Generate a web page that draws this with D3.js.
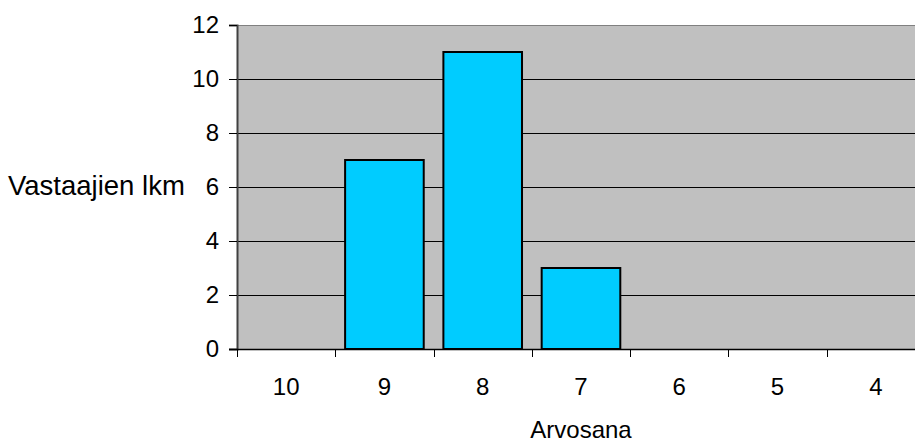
<!DOCTYPE html>
<html>
<head>
<meta charset="utf-8">
<script src="https://cdn.jsdelivr.net/npm/d3@7"></script>
<style>
  html, body { margin: 0; padding: 0; background: #fff; }
  svg { display: block; }
  text { font-family: "Liberation Sans", Arial, sans-serif; fill: #000; }
</style>
</head>
<body>
<svg id="chart" width="915" height="444"></svg>
<script>
// Grade distribution: number of respondents per grade
const grades = ["10", "9", "8", "7", "6", "5", "4"];
const counts = [0, 7, 11, 3, 0, 0, 0];
const yTicks = [0, 2, 4, 6, 8, 10, 12];
const xTitle = "Arvosana";
const yTitle = "Vastaajien lkm";

const svg = d3.select("#chart");
const plotLeft = 237, plotTop = 25, plotBottom = 349;
const bandStep = 98.28;
const plotRight = plotLeft + bandStep * grades.length;

const x = d3.scaleBand().domain(grades).range([plotLeft, plotRight]).paddingInner(0.2).paddingOuter(0.1);
const y = d3.scaleLinear().domain([0, 12]).range([plotBottom, plotTop]);

// Plot area background
svg.append("rect")
  .attr("x", plotLeft).attr("y", plotTop)
  .attr("width", plotRight - plotLeft).attr("height", plotBottom - plotTop)
  .attr("fill", "#c0c0c0");

// Horizontal gridlines
svg.append("g").selectAll("line")
  .data(yTicks.filter(d => d > 0 && d < 12))
  .join("line")
  .attr("x1", plotLeft).attr("x2", plotRight)
  .attr("y1", d => Math.round(y(d)) + 0.5).attr("y2", d => Math.round(y(d)) + 0.5)
  .attr("stroke", "#000").attr("stroke-width", 1);

// Top border of the plot area
svg.append("line")
  .attr("x1", plotLeft).attr("x2", plotRight)
  .attr("y1", plotTop + 0.5).attr("y2", plotTop + 0.5)
  .attr("stroke", "#808080").attr("stroke-width", 1);

// Bars
svg.append("g").selectAll("rect")
  .data(grades.map((g, i) => ({ g, v: counts[i] })).filter(d => d.v > 0))
  .join("rect")
  .attr("x", d => x(d.g))
  .attr("y", d => y(d.v))
  .attr("width", x.bandwidth())
  .attr("height", d => y(0) - y(d.v))
  .attr("fill", "#00ccff")
  .attr("stroke", "#000")
  .attr("stroke-width", 2);

// Y axis
const yAxis = d3.axisLeft(y).tickValues(yTicks).tickSize(8).tickPadding(10);
const gy = svg.append("g").attr("transform", `translate(${plotLeft},0)`).call(yAxis);
gy.select(".domain").attr("stroke", "#404040").attr("stroke-width", 2);
gy.selectAll(".tick line").attr("stroke", "#000");
gy.selectAll(".tick text").attr("font-size", 24).attr("font-family", "Liberation Sans, Arial, sans-serif");

// X axis: ticks sit on category boundaries, labels in category centres
const xAxisLine = svg.append("g");
xAxisLine.append("line")
  .attr("x1", plotLeft - 8).attr("x2", plotRight)
  .attr("y1", plotBottom + 0.5).attr("y2", plotBottom + 0.5)
  .attr("stroke", "#000").attr("stroke-width", 1.5);
xAxisLine.selectAll("line.tk")
  .data(d3.range(grades.length + 1))
  .join("line").attr("class", "tk")
  .attr("x1", i => Math.round(plotLeft + i * bandStep) + 0.5)
  .attr("x2", i => Math.round(plotLeft + i * bandStep) + 0.5)
  .attr("y1", plotBottom).attr("y2", plotBottom + 8)
  .attr("stroke", "#000");
xAxisLine.selectAll("text")
  .data(grades)
  .join("text")
  .attr("x", d => x(d) + x.bandwidth() / 2)
  .attr("y", 395)
  .attr("text-anchor", "middle")
  .attr("font-size", 24)
  .text(d => d);

// Axis titles
svg.append("text")
  .attr("x", (plotLeft + plotRight) / 2).attr("y", 438)
  .attr("text-anchor", "middle")
  .attr("font-size", 24)
  .text(xTitle);

svg.append("text")
  .attr("x", 8).attr("y", 195)
  .attr("font-size", 27.5)
  .text(yTitle);
</script>
</body>
</html>
